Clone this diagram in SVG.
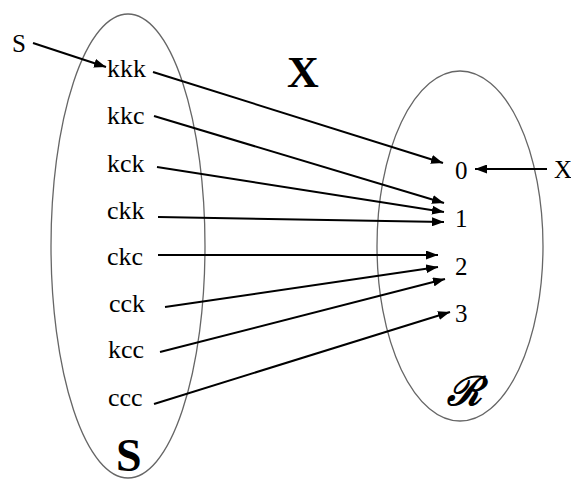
<svg xmlns="http://www.w3.org/2000/svg" width="571" height="480" viewBox="0 0 571 480">
<defs>
<marker id="ah" viewBox="0 0 12 9" refX="12" refY="4.5" markerWidth="12" markerHeight="9" markerUnits="userSpaceOnUse" orient="auto">
<path d="M0,0 L12,4.5 L0,9 z" fill="#000"/>
</marker>
</defs>
<style>
text{font-family:'Liberation Serif','Times New Roman','DejaVu Serif',serif;fill:#000}
.t{font-size:26px}
.d{font-size:25px}
.l{font-size:25px}
.b{font-weight:bold}
.e{fill:none;stroke:#666;stroke-width:1.3}
.c line{stroke:#000;stroke-width:2;marker-end:url(#ah)}
</style>
<rect width="571" height="480" fill="#fff"/>
<g id="setS">
<ellipse class="e" cx="128" cy="246" rx="77" ry="232"/>
<text class="b" x="116" y="471" font-size="46">S</text>
</g>
<g id="setR">
<ellipse class="e" cx="460" cy="246" rx="83" ry="175"/>
<text x="447" y="405" font-style="italic" font-weight="bold" font-size="40">ℛ</text>
</g>
<g id="labelX"><text class="b" x="287" y="87" font-size="44">X</text></g>
<g id="labelS"><text class="l" x="12" y="52">S</text></g>
<g id="labelXr"><text class="l" x="554" y="178">X</text></g>
<g id="kkk"><text class="t" x="107" y="77">kkk</text></g>
<g id="kkc"><text class="t" x="107" y="124">kkc</text></g>
<g id="kck"><text class="t" x="107" y="172">kck</text></g>
<g id="ckk"><text class="t" x="107" y="219">ckk</text></g>
<g id="ckc"><text class="t" x="107" y="265">ckc</text></g>
<g id="cck"><text class="t" x="109" y="312">cck</text></g>
<g id="kcc"><text class="t" x="108" y="358">kcc</text></g>
<g id="ccc"><text class="t" x="108" y="406">ccc</text></g>
<g id="r0"><text class="d" x="455" y="179">0</text></g>
<g id="r1"><text class="d" x="455" y="227">1</text></g>
<g id="r2"><text class="d" x="455" y="275">2</text></g>
<g id="r3"><text class="d" x="455" y="322">3</text></g>
<g id="connectors" class="c">
<line x1="33" y1="43" x2="106" y2="67"/>
<line x1="547" y1="169" x2="475" y2="169"/>
<line x1="153" y1="72" x2="443" y2="163"/>
<line x1="154" y1="116" x2="444" y2="203"/>
<line x1="157" y1="167" x2="444" y2="212"/>
<line x1="158" y1="217" x2="444" y2="222"/>
<line x1="158" y1="255" x2="438" y2="255"/>
<line x1="165" y1="307" x2="438" y2="267"/>
<line x1="160" y1="352" x2="445" y2="279"/>
<line x1="154" y1="404" x2="450" y2="312"/>
</g>
</svg>
